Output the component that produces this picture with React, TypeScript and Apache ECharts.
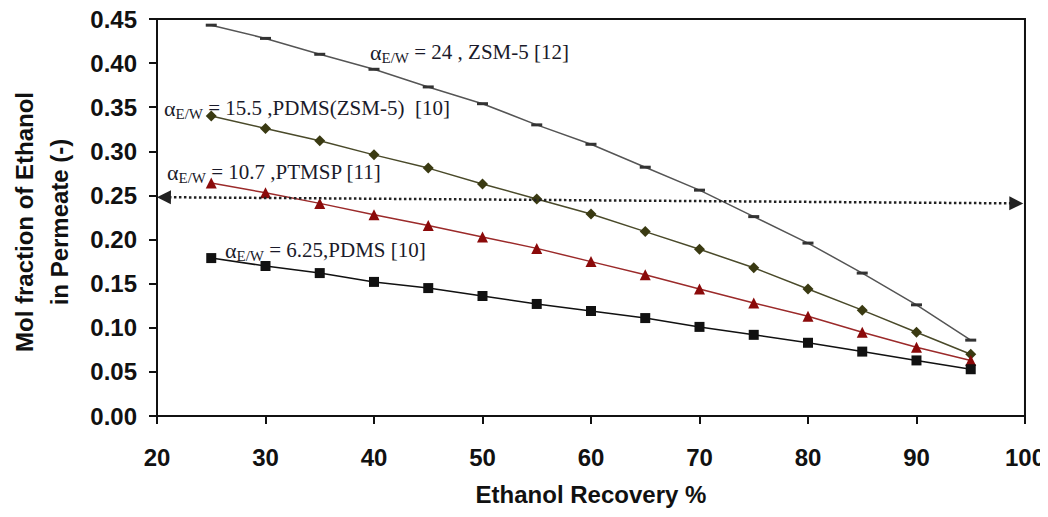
import React, { useEffect, useRef } from "react";
import * as echarts from "echarts";

const recovery = [25, 30, 35, 40, 45, 50, 55, 60, 65, 70, 75, 80, 85, 90, 95];
const zsm5_24 = [0.443, 0.428, 0.410, 0.393, 0.373, 0.354, 0.330, 0.308, 0.282, 0.256, 0.226, 0.196, 0.162, 0.126, 0.086];
const pdmsZsm5_155 = [0.340, 0.326, 0.312, 0.296, 0.281, 0.263, 0.246, 0.229, 0.209, 0.189, 0.168, 0.144, 0.120, 0.095, 0.070];
const ptmsp_107 = [0.264, 0.253, 0.241, 0.228, 0.216, 0.203, 0.190, 0.175, 0.160, 0.144, 0.128, 0.113, 0.095, 0.078, 0.063];
const pdms_625 = [0.179, 0.170, 0.162, 0.152, 0.145, 0.136, 0.127, 0.119, 0.111, 0.101, 0.092, 0.083, 0.073, 0.063, 0.053];
const xTicks = [20, 30, 40, 50, 60, 70, 80, 90, 100];
const yTicks = [0, 0.05, 0.1, 0.15, 0.2, 0.25, 0.3, 0.35, 0.4, 0.45];
const arrowLine = [
  [20.64, 0.248],
  [99.2, 0.241],
];
const labels = [
  { val: " = 24 , ZSM-5 [12]", x: 370, y: 52 },
  { val: " = 15.5 ,PDMS(ZSM-5)  [10]", x: 164, y: 108 },
  { val: " = 10.7 ,PTMSP [11]", x: 167, y: 172 },
  { val: " = 6.25,PDMS [10]", x: 225, y: 250 },
];

const pair = (ys: number[]) => recovery.map((x, i) => [x, ys[i]]);

export default function App() {
  const ref = useRef<HTMLDivElement>(null);
  useEffect(() => {
    if (!ref.current) return;
    const chart = echarts.init(ref.current, null, { renderer: "svg" });
    const axisFont = {
      fontFamily: "Liberation Sans, Arial, sans-serif",
      fontWeight: "bold" as const,
      fontSize: 24,
      color: "#111",
    };
    const serif = "Liberation Serif, Times New Roman, serif";
    chart.setOption({
      animation: false,
      backgroundColor: "#fff",
      grid: {
        left: 157,
        right: 22,
        top: 19,
        bottom: 101,
        show: true,
        borderColor: "#111",
        borderWidth: 2,
        backgroundColor: "transparent",
      },
      xAxis: {
        type: "value",
        min: xTicks[0],
        max: xTicks[xTicks.length - 1],
        interval: 10,
        name: "Ethanol Recovery %",
        nameLocation: "middle",
        nameGap: 66,
        nameTextStyle: axisFont,
        axisLine: { show: true, lineStyle: { color: "#111", width: 2 } },
        axisTick: { show: true, inside: false, length: 8, lineStyle: { color: "#111", width: 2 } },
        axisLabel: { ...axisFont, margin: 29 },
        splitLine: { show: false },
      },
      yAxis: {
        type: "value",
        min: yTicks[0],
        max: yTicks[yTicks.length - 1],
        interval: 0.05,
        axisLine: { show: true, lineStyle: { color: "#111", width: 2 } },
        axisTick: { show: true, inside: false, length: 8, lineStyle: { color: "#111", width: 2 } },
        axisLabel: { ...axisFont, margin: 20, formatter: (v: number) => v.toFixed(2) },
        splitLine: { show: false },
      },
      graphic: [
        {
          type: "text",
          x: 42,
          y: 222,
          rotation: Math.PI / 2,
          style: {
            text: "Mol fraction of Ethanol\nin Permeate (-)",
            font: "bold 24px Liberation Sans, Arial, sans-serif",
            fill: "#111",
            align: "center",
            verticalAlign: "middle",
            lineHeight: 35,
          },
        },
        ...labels.map((l) => ({
          type: "text",
          x: l.x,
          y: l.y,
          style: {
            text: "{a|α}{s|E/W}{n|" + l.val + "}",
            align: "left",
            verticalAlign: "middle",
            fill: "#1a1a2a",
            rich: {
              a: { fontFamily: serif, fontSize: 22, lineHeight: 26, fill: "#1a1a2a" },
              s: { fontFamily: serif, fontSize: 15, lineHeight: 14, verticalAlign: "bottom", fill: "#1a1a2a" },
              n: { fontFamily: serif, fontSize: 21, lineHeight: 26, fill: "#1a1a2a" },
            },
          },
        })),
      ],
      series: [
        {
          type: "line",
          name: "ZSM-5",
          data: pair(zsm5_24),
          symbol: "rect",
          symbolSize: [11, 3],
          itemStyle: { color: "#333" },
          lineStyle: { color: "#555", width: 1.5 },
          markLine: {
            silent: true,
            symbol: ["triangle", "triangle"],
            symbolSize: [14, 14],
            label: { show: false },
            lineStyle: { type: "dotted", color: "#222", width: 2.5 },
            data: [[{ coord: arrowLine[0] }, { coord: arrowLine[1] }]],
          },
        },
        {
          type: "line",
          name: "PDMS(ZSM-5)",
          data: pair(pdmsZsm5_155),
          symbol: "diamond",
          symbolSize: 11,
          itemStyle: { color: "#3a3a12" },
          lineStyle: { color: "#4a4a2a", width: 1.5 },
        },
        {
          type: "line",
          name: "PTMSP",
          data: pair(ptmsp_107),
          symbol: "triangle",
          symbolSize: 11,
          itemStyle: { color: "#8b0a0a" },
          lineStyle: { color: "#9b2a2a", width: 1.5 },
        },
        {
          type: "line",
          name: "PDMS",
          data: pair(pdms_625),
          symbol: "rect",
          symbolSize: 10,
          itemStyle: { color: "#111" },
          lineStyle: { color: "#111", width: 1.5 },
        },
      ],
    });
    return () => chart.dispose();
  }, []);
  return <div ref={ref} style={{ width: 1048, height: 517, margin: -8 }} />;
}
